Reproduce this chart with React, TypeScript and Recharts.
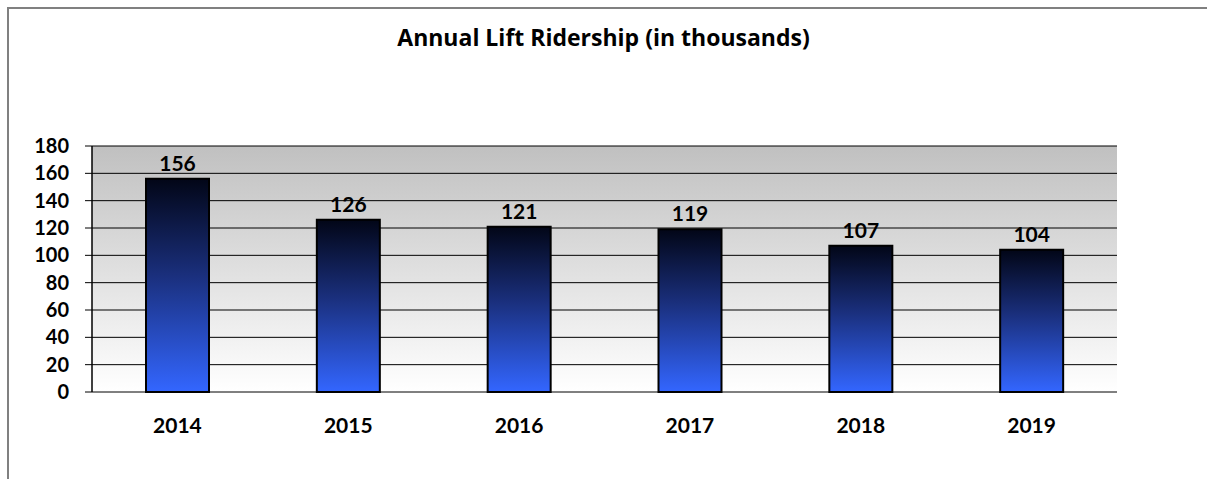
import { BarChart, Bar, XAxis, YAxis, CartesianGrid, LabelList } from "recharts";

const years = ["2014", "2015", "2016", "2017", "2018", "2019"];
const ridership = [156, 126, 121, 119, 107, 104];
const yTicks = [0, 20, 40, 60, 80, 100, 120, 140, 160, 180];

const data = years.map((year, i) => ({ year, riders: ridership[i] }));
const boundaryTicks = Array.from({ length: years.length + 1 }, (_, i) => i);

const FONT = "Lato, 'Open Sans', sans-serif";

export default function App() {
  return (
    <div
      style={{
        position: "absolute",
        left: 0,
        top: 0,
        width: 1207,
        height: 479,
        overflow: "hidden",
        background: "#fff",
        fontFamily: FONT,
      }}
    >
      <div
        style={{
          position: "absolute",
          left: 7,
          top: 7,
          width: 1230,
          height: 500,
          borderLeft: "2px solid #808080",
          borderTop: "2px solid #808080",
        }}
      />
      <div
        style={{
          position: "absolute",
          left: 0,
          top: 26,
          width: 1207,
          textAlign: "center",
          fontFamily: "'Open Sans', sans-serif",
          fontSize: 23,
          lineHeight: 1,
          fontWeight: 700,
          color: "#000",
        }}
      >
        Annual Lift Ridership (in thousands)
      </div>
      <div style={{ position: "absolute", left: 0, top: 0 }}>
        <BarChart
          width={1207}
          height={479}
          data={data}
          margin={{ top: 146, right: 90, bottom: 47, left: 0 }}
          barSize={63}
        >
          <defs>
            <linearGradient id="plotBg" x1="0" y1="0" x2="0" y2="1">
              <stop offset="0%" stopColor="#c0c0c0" />
              <stop offset="100%" stopColor="#ffffff" />
            </linearGradient>
            <linearGradient id="barFill" x1="0" y1="0" x2="0" y2="1">
              <stop offset="0%" stopColor="#020617" />
              <stop offset="45%" stopColor="#1a2f7c" />
              <stop offset="100%" stopColor="#3366ff" />
            </linearGradient>
          </defs>
          <CartesianGrid
            vertical={false}
            stroke="#000"
            fill="url(#plotBg)"
            fillOpacity={1}
          />
          <XAxis
            xAxisId="bounds"
            type="number"
            domain={[0, years.length]}
            ticks={boundaryTicks}
            allowDataOverflow
            height={0}
            axisLine={{ stroke: "#000", strokeWidth: 1.5 }}
            tickLine={{ stroke: "#808080" }}
            tickSize={8}
            tickFormatter={() => ""}
          />
          <XAxis
            xAxisId="cat"
            dataKey="year"
            height={40}
            axisLine={false}
            tickLine={false}
            tickSize={0}
            tickMargin={26}
            tick={{ fontSize: 21, fontWeight: 700, fill: "#000", fontFamily: FONT }}
          />
          <YAxis
            domain={[0, 180]}
            ticks={yTicks}
            width={92}
            axisLine={{ stroke: "#000", strokeWidth: 1.5 }}
            tickLine={{ stroke: "#000" }}
            tickSize={7}
            tickMargin={16}
            interval={0}
            tick={{ fontSize: 20, fontWeight: 700, fill: "#000", fontFamily: FONT }}
          />
          <YAxis
            yAxisId="right"
            orientation="right"
            domain={[0, 180]}
            width={0}
            axisLine={{ stroke: "#808080", strokeWidth: 2 }}
            tick={false}
            tickLine={false}
          />
          <Bar
            xAxisId="cat"
            dataKey="riders"
            fill="url(#barFill)"
            stroke="#000"
            strokeWidth={2}
            isAnimationActive={false}
          >
            <LabelList
              dataKey="riders"
              position="top"
              offset={8}
              style={{ fontSize: 21, fontWeight: 700, fill: "#000", fontFamily: FONT }}
            />
          </Bar>
        </BarChart>
      </div>
    </div>
  );
}
